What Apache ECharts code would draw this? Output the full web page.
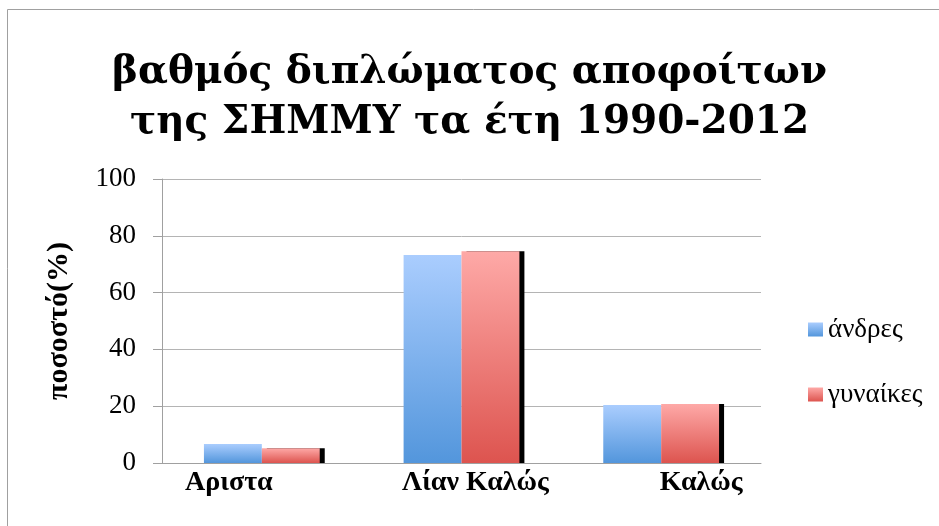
<!DOCTYPE html>
<html>
<head>
<meta charset="utf-8">
<script src="https://cdn.jsdelivr.net/npm/echarts@6/dist/echarts.min.js"></script>
<style>
  html, body { margin: 0; padding: 0; background: #fff; }
  #chart { width: 939px; height: 526px; }
</style>
</head>
<body>
<div id="chart"></div>
<script>
// data
const titleText = 'βαθμός διπλώματος αποφοίτων\nτης ΣΗΜΜΥ τα έτη 1990-2012';
const categories = ['Αριστα', 'Λίαν Καλώς', 'Καλώς'];
const menValues = [6.7, 73.2, 20.4];
const womenValues = [5.2, 74.6, 20.8];
const seriesNames = ['άνδρες', 'γυναίκες'];
const yAxisName = 'ποσοστό(%)';

const labelStyleKeys = ['a', 'b', 'c'];
const serif = '"Liberation Serif", "DejaVu Serif", serif';

const chart = echarts.init(document.getElementById('chart'));

const blueGrad = new echarts.graphic.LinearGradient(0, 0, 0, 1, [
  { offset: 0, color: '#aacdfe' },
  { offset: 1, color: '#5396dc' }
]);
const redGrad = new echarts.graphic.LinearGradient(0, 0, 0, 1, [
  { offset: 0, color: '#fea9a7' },
  { offset: 1, color: '#dd544f' }
]);

chart.setOption({
  animation: false,
  backgroundColor: '#fff',
  title: {
    text: titleText,
    left: 'center',
    top: 43,
    textStyle: {
      fontFamily: '"DejaVu Serif", serif',
      fontWeight: 'bold',
      fontSize: 39,
      lineHeight: 50,
      color: '#000'
    }
  },
  graphic: [{
    type: 'rect',
    shape: { x: 7.5, y: 9.5, width: 1000, height: 1000 },
    style: { fill: 'none', stroke: '#a0a0a0', lineWidth: 1 },
    silent: true
  }],
  legend: {
    orient: 'vertical',
    left: 803,
    top: 311,
    itemWidth: 15,
    itemHeight: 14,
    itemGap: 38,
    icon: 'rect',
    textStyle: { fontFamily: serif, fontSize: 27, color: '#000' },
    data: seriesNames
  },
  grid: { left: 162, right: 178, top: 179, bottom: 63 },
  xAxis: {
    type: 'category',
    data: categories,
    axisLine: { lineStyle: { color: '#a0a0a0' } },
    axisTick: { show: false },
    axisLabel: {
      margin: 6,
      color: '#000',
      formatter: (v, i) => '{' + labelStyleKeys[i] + '|' + v + '}',
      rich: {
        a: { fontFamily: serif, fontWeight: 'bold', fontSize: 28, color: '#000', padding: [0, 66, 0, 0] },
        b: { fontFamily: serif, fontWeight: 'bold', fontSize: 28, color: '#000', padding: [0, 0, 0, 28] },
        c: { fontFamily: serif, fontWeight: 'bold', fontSize: 28, color: '#000', padding: [0, 0, 0, 80] }
      }
    }
  },
  yAxis: {
    type: 'value',
    min: 0,
    max: 100,
    interval: 20,
    name: yAxisName,
    nameLocation: 'middle',
    nameRotate: 90,
    nameGap: 88,
    nameTextStyle: { fontFamily: serif, fontWeight: 'bold', fontSize: 30, color: '#000' },
    axisLine: { show: true, lineStyle: { color: '#a0a0a0' } },
    axisTick: { show: true, length: 9, lineStyle: { color: '#a0a0a0' } },
    axisLabel: { margin: 26, fontFamily: serif, fontSize: 27, color: '#000' },
    splitLine: { lineStyle: { color: '#b4b4b4' } }
  },
  series: [
    {
      name: seriesNames[0],
      type: 'bar',
      data: menValues,
      barGap: '0%',
      barCategoryGap: '42%',
      itemStyle: { color: blueGrad }
    },
    {
      name: seriesNames[1],
      type: 'bar',
      data: womenValues,
      itemStyle: {
        color: redGrad,
        shadowColor: '#000',
        shadowOffsetX: 5,
        shadowOffsetY: 0,
        shadowBlur: 0
      }
    }
  ]
});
</script>
</body>
</html>
